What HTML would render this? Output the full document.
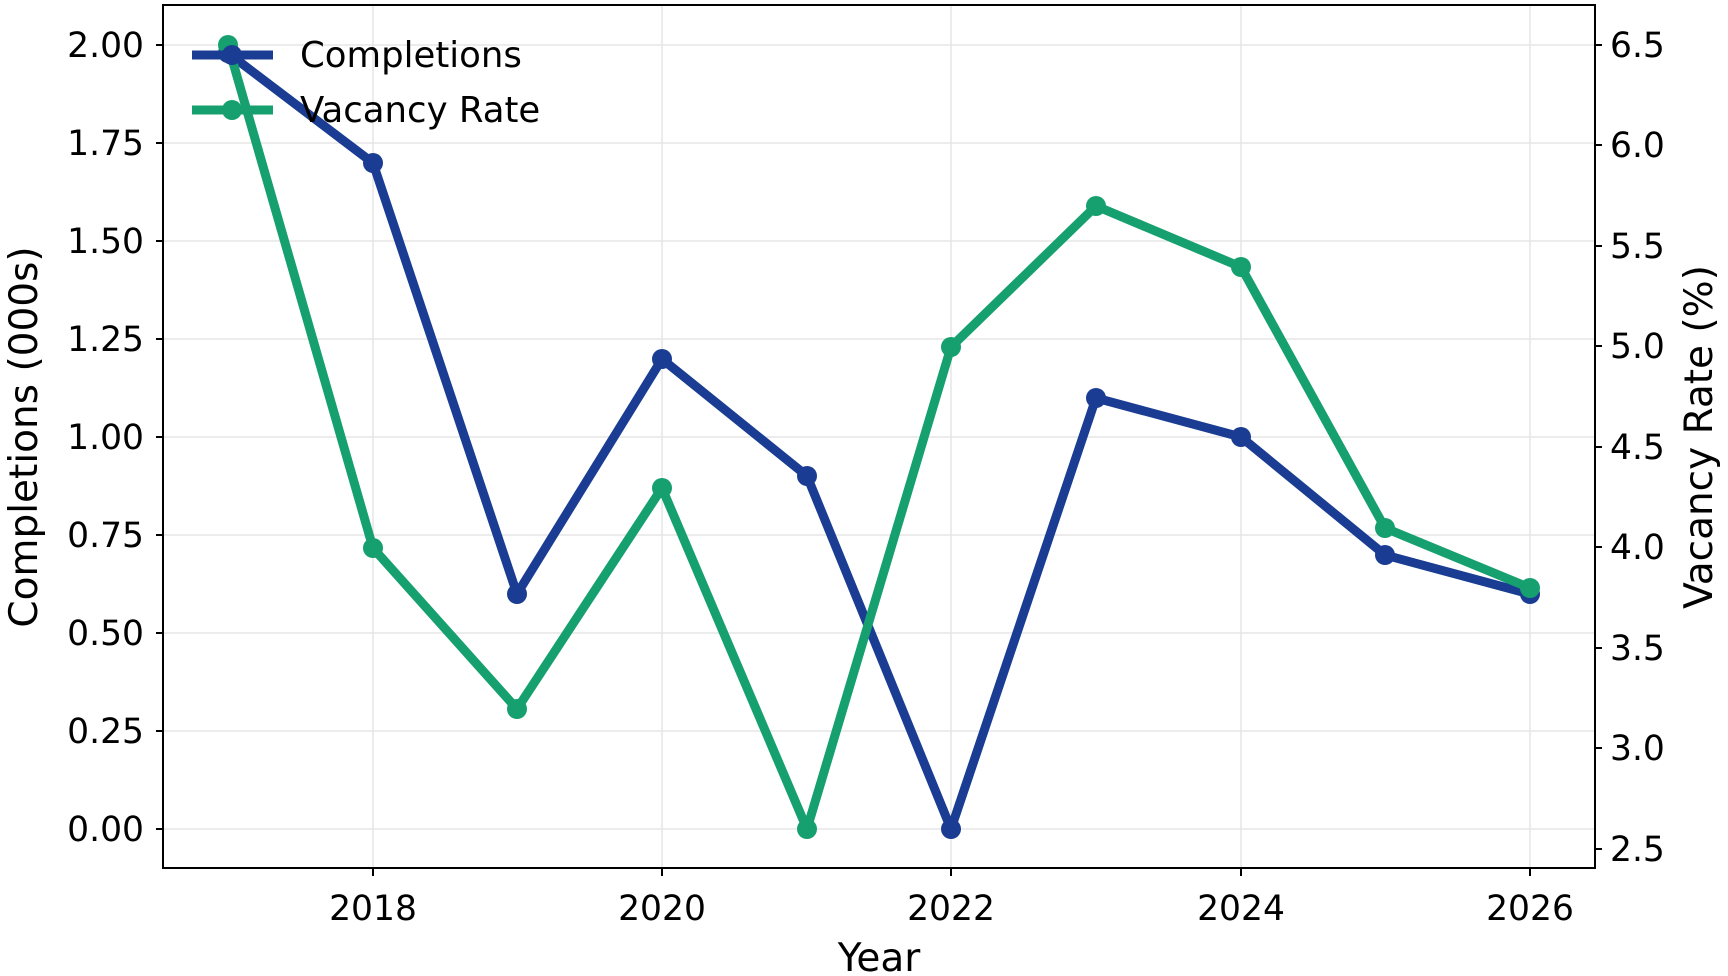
<!DOCTYPE html>
<html><head><style>body{margin:0;background:#fff}svg{display:block}text{font-family:"DejaVu Sans","Liberation Sans",sans-serif;fill:#000}</style></head>
<body>
<svg width="1728" height="976" viewBox="0 0 1728 976" xmlns="http://www.w3.org/2000/svg">
<g stroke="#e5e5e5" stroke-width="1.5">
<line x1="373" y1="5" x2="373" y2="868"/><line x1="662" y1="5" x2="662" y2="868"/><line x1="951" y1="5" x2="951" y2="868"/><line x1="1241" y1="5" x2="1241" y2="868"/><line x1="1530" y1="5" x2="1530" y2="868"/>
<line x1="163" y1="45" x2="1595" y2="45"/><line x1="163" y1="143" x2="1595" y2="143"/><line x1="163" y1="241" x2="1595" y2="241"/><line x1="163" y1="339" x2="1595" y2="339"/><line x1="163" y1="437" x2="1595" y2="437"/><line x1="163" y1="535" x2="1595" y2="535"/><line x1="163" y1="633" x2="1595" y2="633"/><line x1="163" y1="731" x2="1595" y2="731"/><line x1="163" y1="829" x2="1595" y2="829"/>
</g>
<g fill="none" stroke-width="9" stroke-linejoin="round">
<polyline stroke="#1a3d93" points="228,53 373,163 517,594 662,359 807,476 951,829 1096,398 1241,437 1385,555 1530,594"/>
</g>
<g fill="#1a3d93"><circle cx="228" cy="53" r="10"/><circle cx="373" cy="163" r="10"/><circle cx="517" cy="594" r="10"/><circle cx="662" cy="359" r="10"/><circle cx="807" cy="476" r="10"/><circle cx="951" cy="829" r="10"/><circle cx="1096" cy="398" r="10"/><circle cx="1241" cy="437" r="10"/><circle cx="1385" cy="555" r="10"/><circle cx="1530" cy="594" r="10"/></g>
<polyline fill="none" stroke="#16a06f" stroke-width="9" stroke-linejoin="round" points="228,45 373,548 517,709 662,488 807,829 951,347 1096,206 1241,267 1385,528 1530,588"/>
<g fill="#16a06f"><circle cx="228" cy="45" r="10"/><circle cx="373" cy="548" r="10"/><circle cx="517" cy="709" r="10"/><circle cx="662" cy="488" r="10"/><circle cx="807" cy="829" r="10"/><circle cx="951" cy="347" r="10"/><circle cx="1096" cy="206" r="10"/><circle cx="1241" cy="267" r="10"/><circle cx="1385" cy="528" r="10"/><circle cx="1530" cy="588" r="10"/></g>
<rect x="163" y="5" width="1432" height="863" fill="none" stroke="#000" stroke-width="2"/>
<g stroke="#000" stroke-width="2">
<line x1="156" y1="45" x2="163" y2="45"/><line x1="156" y1="143" x2="163" y2="143"/><line x1="156" y1="241" x2="163" y2="241"/><line x1="156" y1="339" x2="163" y2="339"/><line x1="156" y1="437" x2="163" y2="437"/><line x1="156" y1="535" x2="163" y2="535"/><line x1="156" y1="633" x2="163" y2="633"/><line x1="156" y1="731" x2="163" y2="731"/><line x1="156" y1="829" x2="163" y2="829"/>
<line x1="373" y1="868" x2="373" y2="876"/><line x1="662" y1="868" x2="662" y2="876"/><line x1="951" y1="868" x2="951" y2="876"/><line x1="1241" y1="868" x2="1241" y2="876"/><line x1="1530" y1="868" x2="1530" y2="876"/>
<line x1="1595" y1="45" x2="1602" y2="45"/><line x1="1595" y1="145" x2="1602" y2="145"/><line x1="1595" y1="246" x2="1602" y2="246"/><line x1="1595" y1="346" x2="1602" y2="346"/><line x1="1595" y1="447" x2="1602" y2="447"/><line x1="1595" y1="547" x2="1602" y2="547"/><line x1="1595" y1="648" x2="1602" y2="648"/><line x1="1595" y1="748" x2="1602" y2="748"/><line x1="1595" y1="849" x2="1602" y2="849"/>
</g>
<g font-size="34.5" text-anchor="end">
<text x="144" y="57">2.00</text><text x="144" y="155">1.75</text><text x="144" y="253">1.50</text><text x="144" y="351">1.25</text><text x="144" y="449">1.00</text><text x="144" y="547">0.75</text><text x="144" y="645">0.50</text><text x="144" y="743">0.25</text><text x="144" y="841">0.00</text>
</g>
<g font-size="34.5">
<text x="1610" y="57">6.5</text><text x="1610" y="157">6.0</text><text x="1610" y="258">5.5</text><text x="1610" y="358">5.0</text><text x="1610" y="459">4.5</text><text x="1610" y="559">4.0</text><text x="1610" y="660">3.5</text><text x="1610" y="760">3.0</text><text x="1610" y="861">2.5</text>
</g>
<g font-size="34.5" text-anchor="middle">
<text x="373" y="920">2018</text><text x="662" y="920">2020</text><text x="951" y="920">2022</text><text x="1241" y="920">2024</text><text x="1530" y="920">2026</text>
</g>
<text x="879" y="971" font-size="39" text-anchor="middle">Year</text>
<text transform="translate(37,437) rotate(-90)" font-size="39" text-anchor="middle">Completions (000s)</text>
<text transform="translate(1712,437) rotate(-90)" font-size="39" text-anchor="middle">Vacancy Rate (%)</text>
<line x1="192" y1="55" x2="273" y2="55" stroke="#1a3d93" stroke-width="9"/><circle cx="232" cy="55" r="10" fill="#1a3d93"/>
<line x1="192" y1="110" x2="273" y2="110" stroke="#16a06f" stroke-width="9"/><circle cx="232" cy="110" r="10" fill="#16a06f"/>
<text x="300" y="67" font-size="35.5">Completions</text>
<text x="300" y="122" font-size="35.5">Vacancy Rate</text>
</svg>
</body></html>
